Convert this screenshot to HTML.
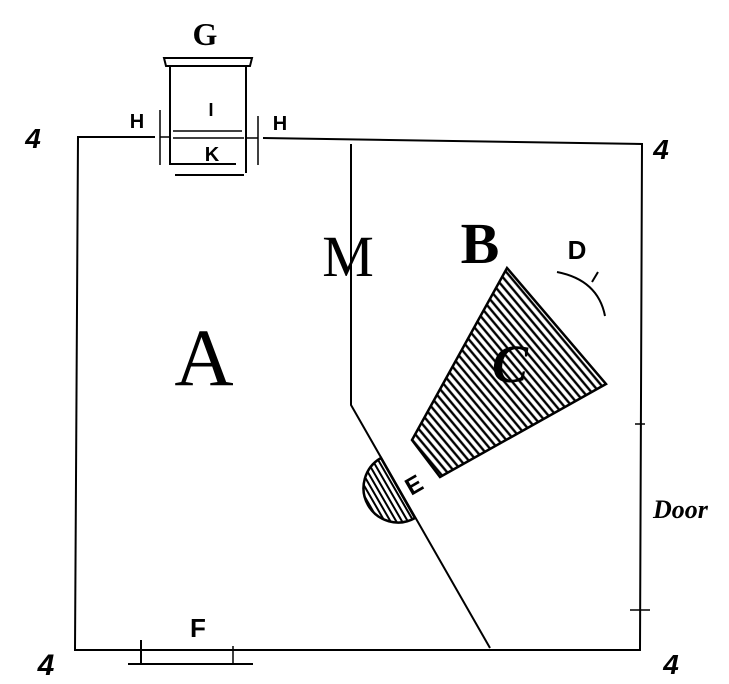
<!DOCTYPE html>
<html><head><meta charset="utf-8"><style>
html,body{margin:0;padding:0;background:#fff;}
svg{display:block;}
text{fill:#000;}
</style></head><body>
<svg width="729" height="684" viewBox="0 0 729 684" xmlns="http://www.w3.org/2000/svg">
<defs>
<pattern id="h" width="6" height="6" patternUnits="userSpaceOnUse" patternTransform="rotate(-40)">
<line x1="3" y1="0" x2="3" y2="6" stroke="#000" stroke-width="2.4"/>
</pattern>
<pattern id="h2" width="5" height="5" patternUnits="userSpaceOnUse" patternTransform="rotate(-30)">
<line x1="2.5" y1="0" x2="2.5" y2="5" stroke="#000" stroke-width="2"/>
</pattern>
</defs>
<g stroke="#000" fill="none" stroke-width="2">
<polyline points="155,137 78,137 75,650 640,650 642,144 263,138"/>
<path d="M164,58 L252,58 L250,66 L166,66 Z" stroke-width="2"/>
<line x1="170" y1="66" x2="170" y2="165"/>
<line x1="246" y1="66" x2="246" y2="173"/>
<line x1="170" y1="164" x2="236" y2="164"/>
<line x1="175" y1="175" x2="244" y2="175"/>
<line x1="173" y1="131" x2="242" y2="131" stroke-width="1.5"/>
<line x1="173" y1="138" x2="244" y2="138" stroke-width="1.5"/>
<line x1="160" y1="110" x2="160" y2="165" stroke-width="1.5"/>
<line x1="258" y1="116" x2="258" y2="165" stroke-width="1.5"/>
<line x1="160" y1="137" x2="170" y2="137" stroke-width="1.5"/>
<line x1="246" y1="138" x2="258" y2="138" stroke-width="1.5"/>
<polyline points="351,144 351,405 490,648"/>
<line x1="635" y1="424" x2="645" y2="424" stroke-width="1.5"/>
<line x1="630" y1="610" x2="650" y2="610" stroke-width="1.5"/>
<line x1="128" y1="664" x2="253" y2="664"/>
<line x1="141" y1="640" x2="141" y2="665"/>
<line x1="233" y1="646" x2="233" y2="664" stroke-width="1.5"/>
<path d="M557,272 Q598,280 605,316" stroke-width="2"/>
<line x1="592" y1="282" x2="598" y2="272" stroke-width="2"/>
</g>
<polygon points="507,268 606,384 440,477 412,440" fill="url(#h)" stroke="#000" stroke-width="2.5"/>
<path d="M381,458 A34,34 0 0 0 415,518 Z" fill="url(#h2)" stroke="#000" stroke-width="2.5"/>
<g font-family="Liberation Serif, serif">
<text x="205" y="45" font-size="32" font-weight="bold" text-anchor="middle">G</text>
<text x="204" y="385" font-size="82" text-anchor="middle">A</text>
<text x="480" y="263" font-size="58" font-weight="bold" text-anchor="middle">B</text>
<text x="348" y="276" font-size="58" text-anchor="middle">M</text>
<text x="510" y="382" font-size="54" font-style="italic" font-weight="bold" text-anchor="middle">C</text>
</g>
<g font-family="Liberation Sans, sans-serif" font-weight="bold">
<text x="137" y="128" font-size="20" text-anchor="middle">H</text>
<text x="280" y="130" font-size="20" text-anchor="middle">H</text>
<text x="211" y="116" font-size="18" text-anchor="middle">I</text>
<text x="212" y="161" font-size="20" text-anchor="middle">K</text>
<text x="577" y="259" font-size="26" text-anchor="middle">D</text>
<text x="198" y="637" font-size="26" text-anchor="middle">F</text>
<text x="0" y="0" font-size="24" transform="translate(418,492) rotate(-30)" text-anchor="middle">E</text>
<text x="33" y="148" font-size="28" font-style="italic" text-anchor="middle">4</text>
<text x="661" y="159" font-size="28" font-style="italic" text-anchor="middle">4</text>
<text x="46" y="675" font-size="30" font-style="italic" text-anchor="middle">4</text>
<text x="671" y="674" font-size="28" font-style="italic" text-anchor="middle">4</text>
</g>
<text x="653" y="518" font-family="Liberation Serif, serif" font-size="26" font-style="italic" font-weight="bold">Door</text>
</svg>
</body></html>
